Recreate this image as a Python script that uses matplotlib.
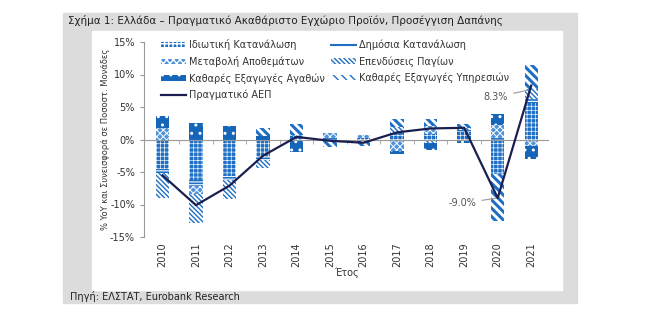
import numpy as np
import matplotlib.pyplot as plt
from matplotlib.patches import Rectangle, Patch
from matplotlib.lines import Line2D

years = ['2010', '2011', '2012', '2013', '2014', '2015', '2016',
         '2017', '2018', '2019', '2020', '2021']

# contributions in percentage points
private_cons = [-4.5, -6.2, -5.6, -2.7, 0.5, -0.1, 0.2, 0.8, 0.8, 1.2, -5.3, 5.6]
public_cons = [-0.7, -1.0, -0.6, -0.4, 0.0, 0.2, 0.0, 0.2, 0.0, 0.2, 0.3, 0.6]
inventories = [1.8, -1.2, 0.0, 0.0, 0.2, 0.8, 0.5, -1.7, 1.3, 0.0, 2.0, -1.0]
investment = [-3.8, -4.4, -3.0, -1.3, 0.0, 0.0, 0.0, 1.0, -0.6, 0.4, 0.0, 1.6]
goods_nx = [1.8, 2.5, 2.1, 0.6, -1.9, 0.0, -0.6, -0.6, -1.0, -0.5, 1.6, -2.0]
services_nx = [0.0, 0.0, 0.0, 1.2, 1.7, -1.1, -0.4, 1.2, 1.0, 0.6, -7.3, 3.6]
real_gdp = [-5.5, -10.1, -7.1, -2.5, 0.4, -0.2, -0.5, 1.1, 1.7, 1.8, -9.0, 8.3]

names = ['Ιδιωτική Κατανάλωση', 'Δημόσια Κατανάλωση', 'Μεταβολή Αποθεμάτων',
         'Επενδύσεις Παγίων', 'Καθαρές Εξαγωγές Αγαθών',
         'Καθαρές Εξαγωγές Υπηρεσιών', 'Πραγματικό ΑΕΠ']

BLUE = '#1f6fc5'
DARK = '#1565b8'
LIGHT = '#4f93dc'
NAVY = '#1a1f4f'
GREY = '#9a9a9a'

plt.rcParams['font.family'] = ['DejaVu Sans']

# (face, hatch colour, hatch, hatch linewidth)
styles = [
    (BLUE, 'white', '++++', 0.45),
    (BLUE, 'white', '------', 0.8),
    (LIGHT, 'white', 'xxxxx', 0.7),
    ('white', BLUE, '\\\\\\\\\\\\\\', 1.0),
    (DARK, 'white', '..', 1.0),
    ('white', BLUE, '\\\\\\\\', 2.2),
]


def make_patch(fc, ec, hatch, hlw):
    with plt.rc_context({'hatch.linewidth': hlw}):
        p = Patch(facecolor=fc, edgecolor=ec, linewidth=0, hatch=hatch)
    if hasattr(p, 'set_hatch_linewidth'):
        p.set_hatch_linewidth(hlw)
    return p


fig = plt.figure(figsize=(6.56, 3.23), dpi=100)
W, H = 656, 323
fig.patches.append(Rectangle((63 / W, 1 - 303 / H), 514 / W, 290 / H,
                             transform=fig.transFigure, color='#dcdcdc', zorder=-3))
fig.patches.append(Rectangle((92 / W, 1 - 290 / H), 470 / W, 259 / H,
                             transform=fig.transFigure, color='white', zorder=-2))

ax = fig.add_axes([144 / W, 1 - 237 / H, 404 / W, 195 / H])
ax.patch.set_alpha(0)

x = np.arange(len(years))
series = [private_cons, public_cons, inventories, investment, goods_nx, services_nx]
pos_base = np.zeros(len(years))
neg_base = np.zeros(len(years))
for vals, (fc, ec, hatch, hlw) in zip(series, styles):
    v = np.array(vals)
    base = np.where(v >= 0, pos_base, neg_base)
    with plt.rc_context({'hatch.linewidth': hlw}):
        bars = ax.bar(x, v, 0.4, bottom=base, color=fc, edgecolor=ec,
                      linewidth=0, hatch=hatch, zorder=2)
    for b in bars:
        if hasattr(b, 'set_hatch_linewidth'):
            b.set_hatch_linewidth(hlw)
    pos_base += np.where(v >= 0, v, 0)
    neg_base += np.where(v < 0, v, 0)

ax.plot(x, real_gdp, color=NAVY, lw=1.6, zorder=4)

# labels for 2020 and 2021
ax.annotate('-9.0%', xy=(10, -9.0), xytext=(8.95, -9.8), fontsize=7,
            color='#555555', va='center', ha='center',
            arrowprops=dict(arrowstyle='-', color=GREY, lw=0.8, shrinkA=2, shrinkB=0))
ax.annotate('8.3%', xy=(10.9, 7.6), xytext=(9.95, 6.5), fontsize=7,
            color='#555555', va='center', ha='center',
            arrowprops=dict(arrowstyle='-', color=GREY, lw=0.8, shrinkA=2, shrinkB=0))

ax.set_xlim(-0.55, 11.5)
ax.set_ylim(-15, 15)
ax.set_yticks([-15, -10, -5, 0, 5, 10, 15])
ax.set_yticklabels([f'{t}%' for t in [-15, -10, -5, 0, 5, 10, 15]])
ax.tick_params(axis='y', colors=GREY, labelcolor='#333333', labelsize=7, length=3)
ax.spines['left'].set_color(GREY)
ax.spines['right'].set_visible(False)
ax.spines['top'].set_visible(False)
ax.spines['bottom'].set_position(('data', 0))
ax.spines['bottom'].set_color(GREY)
ax.set_xticks([])
ax.set_xticks(x[:-1] + 0.5, minor=True)
ax.tick_params(axis='x', which='minor', colors=GREY, length=3, direction='out')

sec = ax.secondary_xaxis('bottom')
sec.set_xticks(x)
sec.set_xticklabels(years, rotation=90, fontsize=7, color='#333333')
sec.tick_params(length=0, pad=4)
sec.spines['bottom'].set_visible(False)
sec.set_xlabel('Έτος', fontsize=7, color='#333333', labelpad=0)

ax.set_ylabel('% YoY και Συνεισφορά σε Ποσοστ. Μονάδες', fontsize=6,
              color='#333333', labelpad=0)

handles = [make_patch(*s) for s in styles]
handles[1] = Line2D([], [], color=BLUE, lw=1.5)
gdp_handle = Line2D([], [], color=NAVY, lw=1.6)
leg_h = [handles[0], handles[2], handles[4], gdp_handle, handles[1], handles[3], handles[5]]
leg_l = [names[0], names[2], names[4], names[6], names[1], names[3], names[5]]
ax.legend(leg_h, leg_l, ncol=2, loc='upper left', bbox_to_anchor=(0.02, 1.06),
          frameon=False, fontsize=7, handlelength=2.6, handleheight=0.5,
          labelspacing=0.62, columnspacing=0.6, handletextpad=0.3,
          labelcolor='#333333')

fig.text(68 / W, 1 - 20 / H,
         'Σχήμα 1: Ελλάδα – Πραγματικό Ακαθάριστο Εγχώριο Προϊόν, Προσέγγιση Δαπάνης',
         fontsize=7.5, color='#222222', va='center')
fig.text(70 / W, 1 - 296 / H, 'Πηγή: ΕΛΣΤΑΤ, Eurobank Research',
         fontsize=7, color='#222222', va='center')

fig.savefig('out.png', dpi=100)
